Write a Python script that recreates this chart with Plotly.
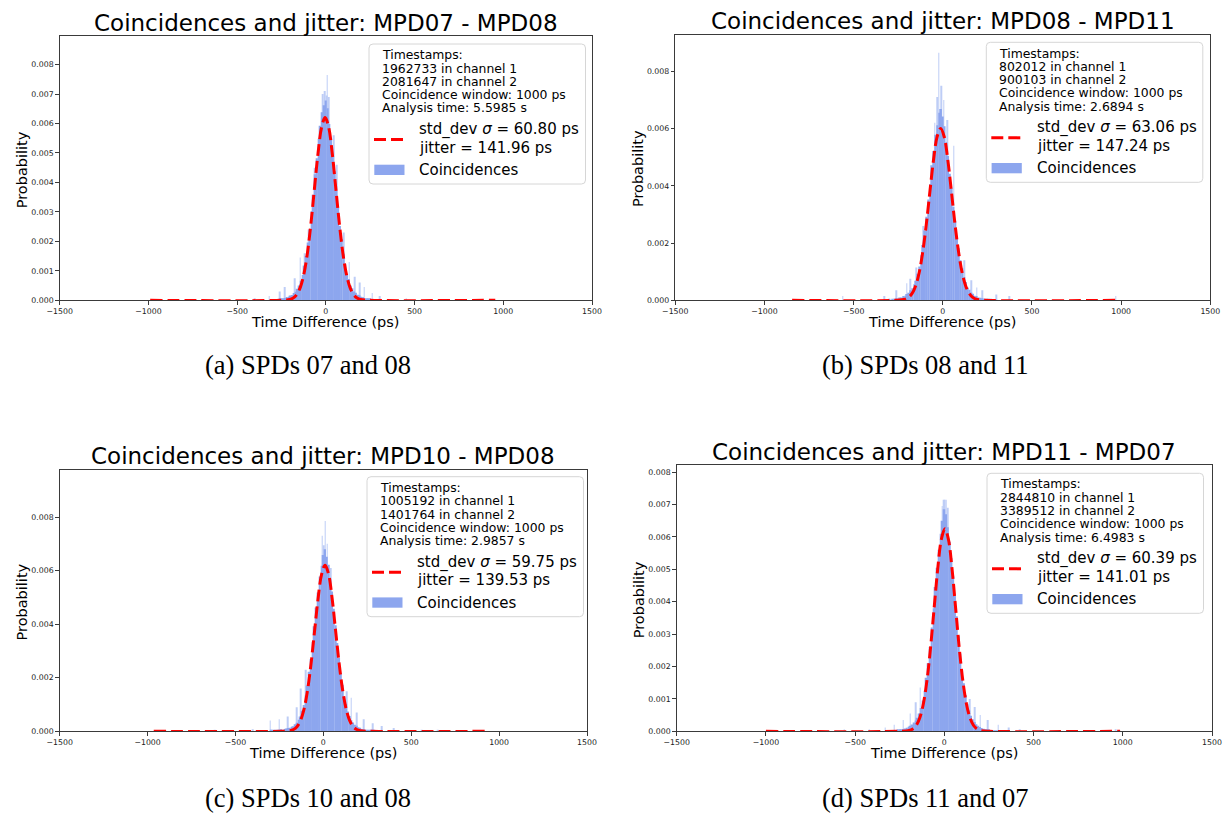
import numpy as np
import plotly.graph_objects as go

W, H = 1231, 814

# ---------------- data ----------------
titles = ["Coincidences and jitter: MPD07 - MPD08",
          "Coincidences and jitter: MPD08 - MPD11",
          "Coincidences and jitter: MPD10 - MPD08",
          "Coincidences and jitter: MPD11 - MPD07"]
captions = ["(a) SPDs 07 and 08", "(b) SPDs 08 and 11",
            "(c) SPDs 10 and 08", "(d) SPDs 11 and 07"]
ch1_counts = ["1962733", "802012", "1005192", "2844810"]
ch2_counts = ["2081647", "900103", "1401764", "3389512"]
coinc_window_ps = [1000, 1000, 1000, 1000]
analysis_time_s = ["5.5985", "2.6894", "2.9857", "6.4983"]
std_dev_ps = ["60.80", "63.06", "59.75", "60.39"]
jitter_ps = ["141.96", "147.24", "139.53", "141.01"]

x_ticks = [-1500, -1000, -500, 0, 500, 1000, 1500]

# histogram bin centres (ps) and probabilities (x 1e-3)
bin_centers = list(range(-300, 301, 10))
body_a = [0.02, 0.01, 0.03, 0.02, 0.05, 0.04, 0.07, 0.08, 0.11, 0.12,
          0.16, 0.18, 0.25, 0.29, 0.39, 0.50, 0.66, 0.86, 1.18, 1.50,
          1.96, 2.42, 3.02, 3.58, 4.28, 4.82, 5.48, 5.92, 6.38, 6.62,
          6.78,
          6.52, 5.98, 5.52, 4.92, 4.38, 3.72, 3.16, 2.52, 2.08, 1.58,
          1.24, 0.90, 0.72, 0.50, 0.41, 0.30, 0.26, 0.19, 0.17, 0.12,
          0.10, 0.07, 0.07, 0.04, 0.05, 0.03, 0.03, 0.02, 0.02, 0.01]
body_b = [0.03, 0.02, 0.05, 0.04, 0.07, 0.06, 0.10, 0.10, 0.15, 0.16,
          0.22, 0.26, 0.35, 0.42, 0.56, 0.68, 0.93, 1.18, 1.57, 1.93,
          2.44, 2.92, 3.52, 4.06, 4.72, 5.22, 5.78, 6.12, 6.55, 6.68,
          6.42,
          6.08, 5.52, 5.04, 4.42, 3.92, 3.26, 2.78, 2.22, 1.82, 1.40,
          1.12, 0.81, 0.64, 0.45, 0.37, 0.27, 0.23, 0.16, 0.15, 0.10,
          0.09, 0.07, 0.06, 0.04, 0.04, 0.03, 0.03, 0.02, 0.02, 0.01]
body_c = [0.04, 0.03, 0.05, 0.04, 0.06, 0.05, 0.08, 0.06, 0.09, 0.10,
          0.12, 0.13, 0.17, 0.19, 0.26, 0.32, 0.43, 0.55, 0.77, 0.98,
          1.34, 1.70, 2.22, 2.70, 3.34, 3.92, 4.62, 5.18, 5.78, 6.18,
          6.58,
          6.80, 6.52, 6.22, 5.72, 5.22, 4.58, 3.96, 3.30, 2.74, 2.18,
          1.74, 1.30, 1.02, 0.74, 0.57, 0.41, 0.33, 0.24, 0.21, 0.15,
          0.13, 0.09, 0.08, 0.06, 0.06, 0.04, 0.04, 0.03, 0.03, 0.02]
body_d = [0.02, 0.02, 0.03, 0.03, 0.04, 0.05, 0.06, 0.07, 0.09, 0.11,
          0.14, 0.17, 0.21, 0.27, 0.33, 0.42, 0.55, 0.72, 0.95, 1.25,
          1.65, 2.10, 2.60, 3.20, 3.80, 4.45, 5.05, 5.60, 6.10, 6.50,
          6.85,
          6.70, 6.30, 5.85, 5.35, 4.80, 4.20, 3.55, 2.95, 2.40, 1.90,
          1.48, 1.12, 0.85, 0.64, 0.48, 0.37, 0.29, 0.22, 0.17, 0.13,
          0.10, 0.08, 0.06, 0.05, 0.04, 0.03, 0.03, 0.02, 0.02, 0.01]

# isolated narrow spikes (ps, x 1e-3)
spike_a_x = [-400, -320, -262, -231, -176, -144, -121, -98, -62, -16, -6, 3, 8, 17, 46, 61, 99, 131, 164, 191, 216, 262, 305, 452]
spike_a_y = [0.05, 0.15, 0.30, 0.45, 0.75, 1.45, 1.60, 2.40, 4.50, 7.00, 7.10, 6.95, 7.65, 6.90, 5.60, 4.60, 2.30, 1.30, 0.80, 0.60, 0.45, 0.25, 0.15, 0.05]
spike_b_x = [-560, -330, -262, -202, -181, -150, -111, -45, -31, -22, -8, 5, 25, 62, 121, 161, 191, 222, 301, 372, 970]
spike_b_y = [0.15, 0.15, 0.35, 0.60, 0.75, 1.15, 2.60, 6.20, 7.10, 8.65, 7.50, 7.00, 6.30, 5.40, 1.40, 0.70, 0.45, 0.35, 0.20, 0.15, 0.15]
spike_c_x = [-620, -402, -302, -251, -201, -151, -129, -101, -6, 3, 10, 22, 41, 131, 159, 191, 231, 281, 331, 402, 561, 652]
spike_c_y = [0.06, 0.08, 0.40, 0.45, 0.55, 0.90, 1.60, 2.30, 7.30, 6.95, 7.85, 7.00, 6.10, 1.50, 1.25, 0.70, 0.45, 0.30, 0.20, 0.12, 0.06, 0.06]
spike_d_x = [-561, -421, -331, -281, -231, -191, -161, -135, -12, -4, 2, 10, 18, 141, 171, 201, 241, 301, 361, 421, 961]
spike_d_y = [0.05, 0.06, 0.12, 0.20, 0.35, 0.55, 0.90, 1.35, 6.95, 7.15, 7.15, 7.15, 6.90, 1.00, 0.75, 0.50, 0.35, 0.20, 0.12, 0.06, 0.05]

# fitted curves (ps, x 1e-3)
fit_a_x = [-990, -254, -204, -184, -164, -144, -124, -104, -84, -64, -44, -24, -4, 16, 36, 56, 76, 96, 116, 136, 156, 176, 196, 246, 955]
fit_a_y = [0, 0.0013, 0.028, 0.078, 0.194, 0.438, 0.884, 1.60, 2.61, 3.81, 4.99, 5.87, 6.20, 5.87, 4.99, 3.81, 2.61, 1.60, 0.884, 0.438, 0.194, 0.078, 0.028, 0.0013, 0]
fit_b_x = [-845, -262, -212, -192, -172, -152, -132, -112, -92, -72, -52, -32, -12, 8, 28, 48, 68, 88, 108, 128, 148, 168, 188, 238, 970]
fit_b_y = [0, 0.0023, 0.039, 0.102, 0.240, 0.511, 0.981, 1.71, 2.68, 3.82, 4.91, 5.71, 6.00, 5.71, 4.91, 3.82, 2.68, 1.71, 0.981, 0.511, 0.240, 0.102, 0.039, 0.0023, 0]
fit_c_x = [-965, -240, -190, -170, -150, -130, -110, -90, -70, -50, -30, -10, 10, 30, 50, 70, 90, 110, 130, 150, 170, 190, 210, 260, 930]
fit_c_y = [0, 0.001, 0.023, 0.066, 0.172, 0.398, 0.825, 1.53, 2.53, 3.74, 4.96, 5.86, 6.20, 5.86, 4.96, 3.74, 2.53, 1.53, 0.825, 0.398, 0.172, 0.066, 0.023, 0.001, 0]
fit_d_x = [-1000, -247, -197, -177, -157, -137, -117, -97, -77, -57, -37, -17, 3, 23, 43, 63, 83, 103, 123, 143, 163, 183, 203, 253, 985]
fit_d_y = [0, 0.0012, 0.026, 0.074, 0.187, 0.426, 0.868, 1.59, 2.60, 3.82, 5.02, 5.92, 6.25, 5.92, 5.02, 3.82, 2.60, 1.59, 0.868, 0.426, 0.187, 0.074, 0.026, 0.0012, 0]

bodies = [body_a, body_b, body_c, body_d]
spikes_x = [spike_a_x, spike_b_x, spike_c_x, spike_d_x]
spikes_y = [spike_a_y, spike_b_y, spike_c_y, spike_d_y]
fits_x = [fit_a_x, fit_b_x, fit_c_x, fit_d_x]
fits_y = [fit_a_y, fit_b_y, fit_c_y, fit_d_y]

# ---------------- layout geometry (pixels) ----------------
axes_px = [  # left, right, top, bottom
    (51.7, 584.0, 28.3, 292.3),
    (667.3, 1202.3, 26.7, 292.3),
    (51.7, 579.0, 461.7, 723.3),
    (668.7, 1204.0, 457.3, 723.3),
]
y_max = [0.00896, 0.00928, 0.00977, 0.00821]
y_step = [0.001, 0.002, 0.002, 0.001]
legend_box_px = [(361.0, 36.0), (978.3, 34.3), (359.0, 468.7), (979.0, 465.3)]
caption_px = [(300, 357), (917, 357), (300, 790), (917, 790)]

BAR_COLOR = "rgb(141,166,238)"
SPIKE_COLOR = "rgb(190,205,246)"
AXIS_COLOR = "#3a3a3a"
FONT = "DejaVu Sans"


def PX(x):
    return x / W


def PY(y):
    return 1 - y / H


fig = go.Figure()
layout = dict(width=W, height=H, margin=dict(l=0, r=0, t=0, b=0),
              paper_bgcolor="white", plot_bgcolor="white",
              showlegend=False, barmode="overlay",
              font=dict(family=FONT, color="black"))
annotations = []
shapes = []

for i in range(4):
    sfx = "" if i == 0 else str(i + 1)
    xa, ya = "x" + sfx, "y" + sfx
    left, right, top, bottom = axes_px[i]

    fig.add_trace(go.Bar(x=spikes_x[i], y=np.array(spikes_y[i]) * 1e-3, width=4,
                         marker=dict(color=SPIKE_COLOR, line=dict(width=0)),
                         xaxis=xa, yaxis=ya, hoverinfo="skip"))
    fig.add_trace(go.Bar(x=bin_centers, y=np.array(bodies[i]) * 1e-3, width=10,
                         marker=dict(color=BAR_COLOR, line=dict(width=0)),
                         xaxis=xa, yaxis=ya, name="Coincidences"))
    fig.add_trace(go.Scatter(x=fits_x[i], y=np.array(fits_y[i]) * 1e-3, mode="lines",
                             line=dict(color="red", width=3, dash="12px,5px",
                                       shape="spline", smoothing=1),
                             xaxis=xa, yaxis=ya, name="fit"))

    yt = [round(k * y_step[i], 3) for k in range(int(round(0.008 / y_step[i])) + 1)]
    common = dict(showline=True, linecolor=AXIS_COLOR, linewidth=1, mirror=True,
                  ticks="outside", ticklen=3.5, tickwidth=1, tickcolor=AXIS_COLOR,
                  showgrid=False, zeroline=False, automargin=False,
                  tickfont=dict(family=FONT, size=7.8, color="#222"))
    layout["xaxis" + sfx] = dict(domain=[PX(left), PX(right)], range=[-1500, 1500],
                                 anchor=ya, tickvals=x_ticks, **common)
    layout["yaxis" + sfx] = dict(domain=[PY(bottom), PY(top)], range=[0, y_max[i]],
                                 anchor=xa, tickvals=yt, tickformat=".3f", **common)

    cx = (left + right) / 2
    annotations.append(dict(text=titles[i], x=PX(cx), y=PY(top - 13.7),
                            xanchor="center", yanchor="middle",
                            font=dict(size=23, family=FONT, color="black")))
    annotations.append(dict(text="Time Difference (ps)", x=PX(cx), y=PY(bottom + 21.7),
                            xanchor="center", yanchor="middle",
                            font=dict(size=14.5, family=FONT, color="black")))
    annotations.append(dict(text="Probability", x=PX(left - 38), y=PY((top + bottom) / 2 + 1.3),
                            xanchor="center", yanchor="middle", textangle=-90,
                            font=dict(size=14.5, family=FONT, color="black")))

    # legend box
    bl, bt = legend_box_px[i]
    bw, bh, r = 216.5, 140.0, 4.0
    x0, x1, y0, y1 = bl, bl + bw, bt, bt + bh
    path = (f"M {PX(x0 + r)},{PY(y0)} L {PX(x1 - r)},{PY(y0)} Q {PX(x1)},{PY(y0)} {PX(x1)},{PY(y0 + r)} "
            f"L {PX(x1)},{PY(y1 - r)} Q {PX(x1)},{PY(y1)} {PX(x1 - r)},{PY(y1)} "
            f"L {PX(x0 + r)},{PY(y1)} Q {PX(x0)},{PY(y1)} {PX(x0)},{PY(y1 - r)} "
            f"L {PX(x0)},{PY(y0 + r)} Q {PX(x0)},{PY(y0)} {PX(x0 + r)},{PY(y0)} Z")
    shapes.append(dict(type="path", path=path, xref="paper", yref="paper",
                       line=dict(color="#d6d6d6", width=1), fillcolor="rgba(255,255,255,0.85)",
                       layer="above"))
    info_lines = ["Timestamps:",
                  f"{ch1_counts[i]} in channel 1",
                  f"{ch2_counts[i]} in channel 2",
                  f"Coincidence window: {coinc_window_ps[i]} ps",
                  f"Analysis time: {analysis_time_s[i]} s"]
    for k, t in enumerate(info_lines):
        annotations.append(dict(text=t, x=PX(bl + 10.6), y=PY(bt + 10.7 + 13.3 * k),
                                xanchor="left", yanchor="middle",
                                font=dict(size=12.4, family=FONT, color="black")))
    shapes.append(dict(type="line", xref="paper", yref="paper",
                       x0=PX(bl + 5), x1=PX(bl + 34.5), y0=PY(bt + 95.5), y1=PY(bt + 95.5),
                       line=dict(color="red", width=3, dash="12px,5px"), layer="above"))
    annotations.append(dict(text=f"std_dev <i>σ</i> = {std_dev_ps[i]} ps", x=PX(bl + 48.2),
                            y=PY(bt + 85.5), xanchor="left", yanchor="middle",
                            font=dict(size=15, family=FONT, color="black")))
    annotations.append(dict(text=f"jitter = {jitter_ps[i]} ps", x=PX(bl + 48.2),
                            y=PY(bt + 103.5), xanchor="left", yanchor="middle",
                            font=dict(size=15, family=FONT, color="black")))
    shapes.append(dict(type="rect", xref="paper", yref="paper",
                       x0=PX(bl + 5.3), x1=PX(bl + 35.5), y0=PY(bt + 120.7), y1=PY(bt + 131),
                       line=dict(width=0), fillcolor=BAR_COLOR, layer="above"))
    annotations.append(dict(text="Coincidences", x=PX(bl + 48.2), y=PY(bt + 125.8),
                            xanchor="left", yanchor="middle",
                            font=dict(size=15, family=FONT, color="black")))

    capx, capy = caption_px[i]
    annotations.append(dict(text=captions[i], x=PX(capx), y=PY(capy),
                            xanchor="center", yanchor="middle",
                            font=dict(size=26.5, family="Liberation Serif, Times New Roman, serif",
                                      color="black")))

for a in annotations:
    a.update(xref="paper", yref="paper", showarrow=False)
layout["annotations"] = annotations
layout["shapes"] = shapes
fig.update_layout(**layout)
fig.write_html("out.html")
